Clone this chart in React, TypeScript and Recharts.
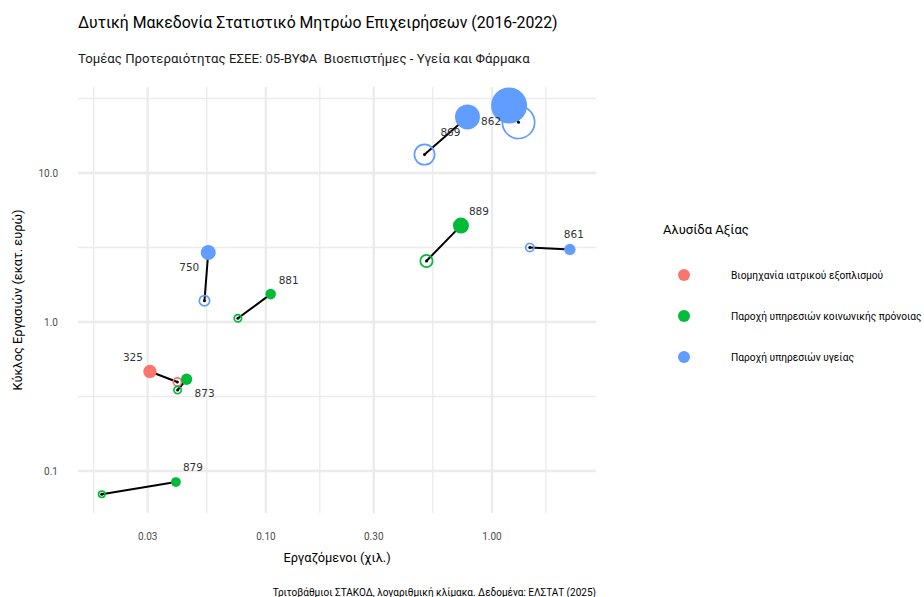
import React from 'react';
import { ScatterChart, Scatter, XAxis, YAxis, ZAxis, CartesianGrid } from 'recharts';

// ---- data ----
const codes = ['325', '873', '750', '881', '879', '889', '861', '869', '862'];
const chainIndex = [0, 1, 2, 1, 1, 1, 2, 2, 2];
const chainNames = [
  'Βιομηχανία ιατρικού εξοπλισμού',
  'Παροχή υπηρεσιών κοινωνικής πρόνοιας',
  'Παροχή υπηρεσιών υγείας',
];
// employees (thousands)
const employees2016 = [0.0406, 0.0407, 0.0535, 0.0752, 0.0188, 0.513, 1.47, 0.503, 1.31];
const employees2022 = [0.0307, 0.0446, 0.0556, 0.105, 0.04, 0.729, 2.21, 0.779, 1.19];
// turnover (million euro)
const turnover2016 = [0.396, 0.35, 1.39, 1.06, 0.0698, 2.57, 3.16, 13.3, 21.9];
const turnover2022 = [0.466, 0.413, 2.93, 1.54, 0.0844, 4.44, 3.07, 23.8, 28.4];
// size variable (enterprises)
const firms2016 = [6, 5, 9, 5, 4, 12, 6, 30, 72];
const firms2022 = [11, 8, 14, 7, 6, 16, 8, 39, 81];

const xTicks = [0.03, 0.1, 0.3, 1];
const yTicks = [0.1, 1, 10];
const xMinor = [0.01732, 0.05477, 0.1732, 0.5477, 1.732];
const yMinor = [0.3162, 3.162, 31.62];
const xDomain = [0.01476, 2.884];
const yDomain = [0.0523, 37.8];
const zDomain = [0, 81];

// label nudges (px) relative to 2022 point
const labelNudge: Record<string, [number, number]> = {
  '325': [-17, -14],
  '873': [18, 14],
  '750': [-19, 15],
  '881': [18, -14],
  '879': [17, -15],
  '889': [18, -15],
  '861': [4, -15],
  '869': [-17, 15],
  '862': [-18, 15],
};

const COLORS = ['#F8766D', '#00BA38', '#619CFF'];
const W = 924;
const H = 597;

const openData = codes.map((c, i) => ({ code: c, chain: chainIndex[i], x: employees2016[i], y: turnover2016[i], z: firms2016[i] }));
const filledData = codes.map((c, i) => ({ code: c, chain: chainIndex[i], x: employees2022[i], y: turnover2022[i], z: firms2022[i] }));
const segments = codes.map((c, i) => [
  { code: c, start: true, x: employees2016[i], y: turnover2016[i] },
  { code: c, start: false, x: employees2022[i], y: turnover2022[i] },
]);

const radiusOf = (p: any) => {
  if (typeof p.size === 'number' && isFinite(p.size)) return Math.sqrt(p.size / Math.PI);
  if (typeof p.width === 'number') return p.width / 2;
  return 5;
};

const OpenShape = (p: any) => (
  <circle cx={p.cx} cy={p.cy} r={Math.max(radiusOf(p) - 0.8, 1)} fill="none" stroke={COLORS[p.payload.chain]} strokeWidth={1.7} />
);
const FilledShape = (p: any) => <circle cx={p.cx} cy={p.cy} r={radiusOf(p)} fill={COLORS[p.payload.chain]} />;
const SegDot = (p: any) => (p.payload.start ? <circle cx={p.cx} cy={p.cy} r={1.5} fill="#000" /> : <g />);
const LabelShape = (p: any) => {
  const n = labelNudge[p.payload.code] || [0, 0];
  return (
    <text x={p.cx + n[0]} y={p.cy + n[1]} textAnchor="middle" dominantBaseline="central" fontFamily="DejaVu Sans" fontSize={10.5} fill="#333333">
      {p.payload.code}
    </text>
  );
};

const scaleFn = (s: any) => (v: number) => (typeof s === 'function' ? s(v) : s && typeof s.map === 'function' ? s.map(v) : NaN);

const XTick = (p: any) => (
  <text x={p.x} y={p.y + 27} textAnchor="middle" fontFamily="Roboto" fontSize={10} fill="#4D4D4D">
    {Number(p.payload.value).toFixed(2)}
  </text>
);
const YTick = (p: any) => (
  <text x={p.x} y={p.y + 3.5} textAnchor="end" fontFamily="Roboto" fontSize={10} fill="#4D4D4D">
    {Number(p.payload.value).toFixed(1)}
  </text>
);

export default function App() {
  return (
    <div style={{ position: 'absolute', left: 0, top: 0, width: W, height: H, background: '#fff' }}>
      <div style={{ position: 'absolute', left: 0, top: 0 }}>
        <ScatterChart width={W} height={H} margin={{ top: 87, right: 328, bottom: 54, left: 0 }}>
          <CartesianGrid
            stroke="#EBEBEB"
            strokeWidth={1.4}
            verticalCoordinatesGenerator={({ xAxis }: any) => xMinor.map(scaleFn(xAxis.scale))}
            horizontalCoordinatesGenerator={({ yAxis }: any) => yMinor.map(scaleFn(yAxis.scale))}
          />
          <CartesianGrid
            stroke="#EBEBEB"
            strokeWidth={2.4}
            verticalCoordinatesGenerator={({ xAxis }: any) => xTicks.map(scaleFn(xAxis.scale))}
            horizontalCoordinatesGenerator={({ yAxis }: any) => yTicks.map(scaleFn(yAxis.scale))}
          />
          <XAxis
            type="number"
            dataKey="x"
            scale="log"
            domain={xDomain}
            allowDataOverflow
            ticks={xTicks}
            axisLine={false}
            tickLine={false}
            tickSize={0}
            tickMargin={0}
            height={30}
            tick={<XTick />}
          />
          <YAxis
            type="number"
            dataKey="y"
            scale="log"
            domain={yDomain}
            allowDataOverflow
            ticks={yTicks}
            axisLine={false}
            tickLine={false}
            tickSize={0}
            tickMargin={20}
            width={78}
            tick={<YTick />}
          />
          <ZAxis type="number" dataKey="z" domain={zDomain} range={[0, 4 * 81 * Math.PI]} />
          {segments.map((seg, i) => (
            <Scatter
              key={'seg' + i}
              data={seg}
              line={{ stroke: '#000', strokeWidth: 2 }}
              lineType="joint"
              shape={<SegDot />}
              isAnimationActive={false}
            />
          ))}
          <Scatter data={openData} shape={<OpenShape />} isAnimationActive={false} />
          <Scatter data={filledData} shape={<FilledShape />} isAnimationActive={false} />
          <Scatter data={filledData} shape={<LabelShape />} isAnimationActive={false} />
        </ScatterChart>
      </div>
      <svg width={W} height={H} style={{ position: 'absolute', left: 0, top: 0, pointerEvents: 'none' }}>
        <g fontFamily="Roboto">
          <text x={78} y={28} fontSize={15.8} fill="#000">
            Δυτική Μακεδονία Στατιστικό Μητρώο Επιχειρήσεων (2016-2022)
          </text>
          <text x={78} y={62.5} fontSize={13.2} fill="#1a1a1a" style={{ whiteSpace: 'pre' }} xmlSpace="preserve">
            {'Τομέας Προτεραιότητας ΕΣΕΕ: 05-ΒΥΦΑ  Βιοεπιστήμες - Υγεία και Φάρμακα'}
          </text>
          <text x={337} y={561.5} fontSize={12.8} textAnchor="middle" fill="#000">
            Εργαζόμενοι (χιλ.)
          </text>
          <text x={22} y={300} fontSize={12.8} textAnchor="middle" fill="#000" transform="rotate(-90 22 300)">
            Κύκλος Εργασιών (εκατ. ευρώ)
          </text>
          <text x={596} y={595.5} fontSize={10} textAnchor="end" fill="#000">
            Τριτοβάθμιοι ΣΤΑΚΟΔ, λογαριθμική κλίμακα. Δεδομένα: ΕΛΣΤΑΤ (2025)
          </text>
          <text x={663} y={233.5} fontSize={13} fill="#000">
            Αλυσίδα Αξίας
          </text>
          {chainNames.map((name, i) => (
            <g key={name}>
              <circle cx={684} cy={275 + i * 41} r={6} fill={COLORS[i]} />
              <text x={731} y={278.5 + i * 41} fontSize={10.2} fill="#000">
                {name}
              </text>
            </g>
          ))}
        </g>
      </svg>
    </div>
  );
}
